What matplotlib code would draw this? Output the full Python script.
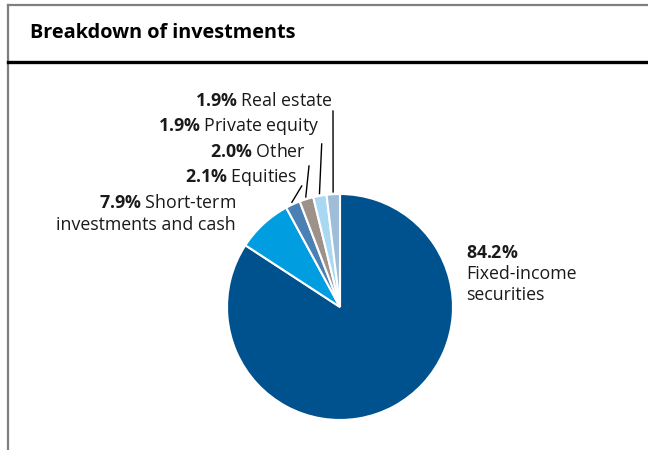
import numpy as np
import matplotlib
matplotlib.use("Agg")
import matplotlib.pyplot as plt
from matplotlib.lines import Line2D

plt.rcParams['font.family'] = ['Open Sans', 'DejaVu Sans']
plt.rcParams['mathtext.fontset'] = 'custom'
plt.rcParams['mathtext.rm'] = 'Open Sans'
plt.rcParams['mathtext.bf'] = 'Open Sans:bold'

# data (clockwise from 12 o'clock)
categories = ['Fixed-income securities', 'Short-term investments and cash',
              'Equities', 'Other', 'Private equity', 'Real estate']
shares = [84.2, 7.9, 2.1, 2.0, 1.9, 1.9]
colors = ['#00528f', '#009ee0', '#4a80b4', '#9c9289', '#a9d9f2', '#9dbdd9']

W, H = 648, 450
fig = plt.figure(figsize=(W / 100, H / 100), dpi=100)


def fx(px):
    return px / W


def fy(py):
    return 1 - py / H


# frame of the panel
fig.add_artist(Line2D([fx(8), 1], [fy(5), fy(5)], color='#7f7f7f', lw=1.6))
fig.add_artist(Line2D([fx(8), fx(8)], [fy(5), 0], color='#7f7f7f', lw=1.6))
fig.add_artist(Line2D([fx(8), 1], [fy(62), fy(62)], color='black', lw=2.4))
fig.text(fx(30), fy(33), 'Breakdown of investments', fontsize=14.3,
         fontweight='bold', va='center', ha='left')

# pie, centre (340, 307) px, radius 113 px
cx, cy, r = 340, 307, 113
ax = fig.add_axes([fx(cx - r), fy(cy + r), 2 * r / W, 2 * r / H])
wedges, _ = ax.pie(shares, colors=colors, startangle=90, counterclock=False,
                   wedgeprops=dict(edgecolor='white', linewidth=1.5))
ax.set_xlim(-1, 1)
ax.set_ylim(-1, 1)
ax.axis('off')

# leader lines for the small slices
tops = {2: (301.7, 186), 3: (309, 166), 4: (321.7, 144), 5: (333, 111)}
for i, (tx, ty) in tops.items():
    w = wedges[i]
    mid = np.deg2rad((w.theta1 + w.theta2) / 2)
    x0, y0 = 1.02 * np.cos(mid), 1.02 * np.sin(mid)
    x1, y1 = (tx - cx) / r, (cy - ty) / r
    ax.plot([x0, x1], [y0, y1], color='black', lw=1.0, clip_on=False)

fs = 12.8
lab_color = '#1a1a1a'
fig.text(fx(333), fy(101), r'$\mathbf{1.9\%}$ Real estate', fontsize=fs,
         ha='right', va='center', color=lab_color)
fig.text(fx(319), fy(127), r'$\mathbf{1.9\%}$ Private equity', fontsize=fs,
         ha='right', va='center', color=lab_color)
fig.text(fx(306), fy(152), r'$\mathbf{2.0\%}$ Other', fontsize=fs,
         ha='right', va='center', color=lab_color)
fig.text(fx(297), fy(178), r'$\mathbf{2.1\%}$ Equities', fontsize=fs,
         ha='right', va='center', color=lab_color)
fig.text(fx(236), fy(214), r'$\mathbf{7.9\%}$ Short-term' + '\ninvestments and cash',
         fontsize=fs, ha='right', va='center', multialignment='right',
         linespacing=1.25, color=lab_color)
fig.text(fx(466), fy(274), r'$\mathbf{84.2\%}$' + '\nFixed-income\nsecurities',
         fontsize=fs, ha='left', va='center', multialignment='left',
         linespacing=1.25, color=lab_color)

fig.savefig('out.png', dpi=100)
